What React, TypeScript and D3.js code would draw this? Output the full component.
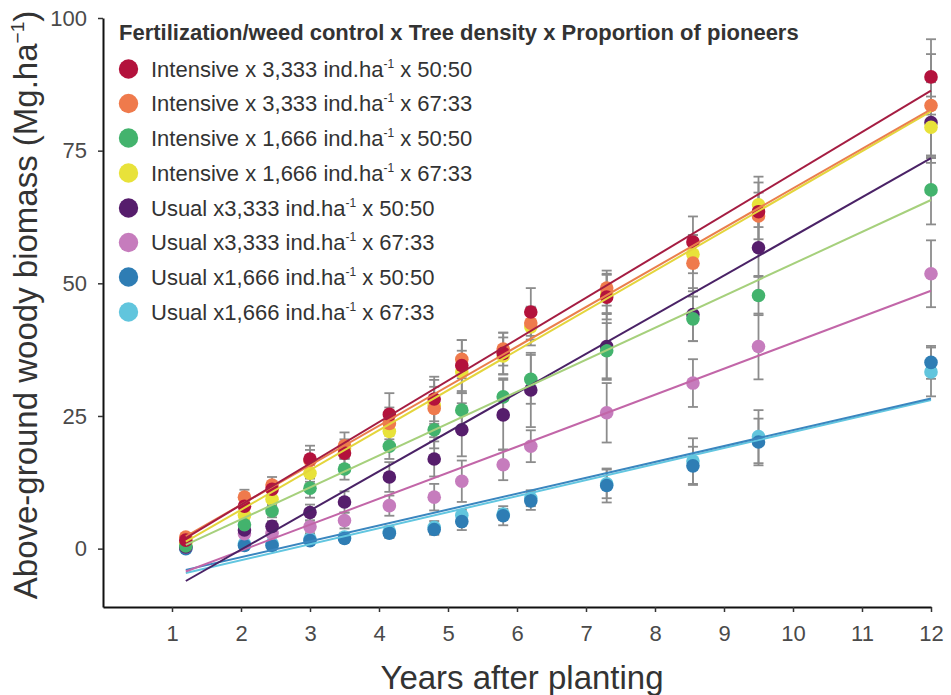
import React, { useEffect, useRef } from 'react';
import * as d3 from 'd3';

// years after planting at which biomass was measured
const years = [1.2, 2.05, 2.45, 3.0, 3.5, 4.15, 4.8, 5.2, 5.8, 6.2, 7.3, 8.55, 9.5, 12];

const labelPre = [
  'Intensive x 3,333 ind.ha',
  'Intensive x 3,333 ind.ha',
  'Intensive x 1,666 ind.ha',
  'Intensive x 1,666 ind.ha',
  'Usual x3,333 ind.ha',
  'Usual x3,333 ind.ha',
  'Usual x1,666 ind.ha',
  'Usual x1,666 ind.ha',
];
const labelPost = [' x 50:50', ' x 67:33', ' x 50:50', ' x 67:33', ' x 50:50', ' x 67:33', ' x 50:50', ' x 67:33'];

const dotColors = ['#b3123c', '#ef7a4c', '#43b36d', '#e8e23a', '#561d6c', '#c67cbd', '#2e7db4', '#61c5dd'];
const lineColors = ['#a51d42', '#ea7f4c', '#a6d07c', '#e4d53c', '#4a2266', '#c266a8', '#3a86bf', '#62c6e0'];

// mean biomass (Mg/ha), legend order
const intensive3333_5050 = [1.6, 8.0, 11.2, 16.9, 18.0, 25.3, 28.2, 34.5, 36.8, 44.6, 47.4, 57.8, 63.5, 88.9];
const intensive3333_6733 = [2.2, 9.7, 12.0, 16.6, 19.4, 23.6, 26.4, 35.7, 37.6, 42.5, 49.1, 53.8, 62.7, 83.5];
const intensive1666_5050 = [0.5, 4.5, 7.1, 11.4, 15.0, 19.3, 22.4, 26.1, 28.6, 31.9, 37.3, 43.3, 47.7, 67.6];
const intensive1666_6733 = [1.0, 6.3, 9.3, 14.2, 18.8, 22.1, 27.0, 33.3, 36.3, 41.8, 48.0, 55.5, 64.8, 79.4];
const usual3333_5050 = [0.3, 3.5, 4.2, 6.8, 8.8, 13.5, 16.9, 22.4, 25.2, 29.9, 38.1, 44.1, 56.7, 80.3];
const usual3333_6733 = [0.3, 2.8, 2.9, 4.1, 5.3, 8.1, 9.7, 12.7, 15.8, 19.3, 25.6, 31.2, 38.1, 51.8];
const usual1666_5050 = [0.0, 0.6, 0.6, 1.5, 1.9, 2.9, 3.6, 5.1, 6.2, 9.0, 11.9, 15.6, 20.1, 35.1];
const usual1666_6733 = [0.2, 0.9, 0.9, 1.8, 2.2, 3.2, 4.0, 6.3, 6.5, 9.5, 12.2, 16.5, 21.1, 33.3];

// standard errors
const se3333_5050i = [0.8, 1.2, 1.3, 2.5, 2.2, 4.0, 4.2, 4.8, 3.9, 4.5, 4.2, 4.8, 6.6, 7.1];
const se3333_6733i = [0.6, 1.4, 1.5, 2.0, 2.5, 3.0, 5.4, 3.6, 3.1, 3.1, 3.3, 5.3, 4.4, 9.7];
const se1666_5050i = [0.4, 1.0, 1.2, 1.8, 2.0, 2.4, 3.5, 3.2, 3.5, 4.6, 5.2, 4.2, 3.7, 6.5];
const se1666_6733i = [0.5, 1.0, 1.2, 1.6, 1.8, 2.5, 3.5, 4.0, 3.5, 3.5, 3.8, 3.6, 4.2, 5.8];
const se3333_5050u = [0.3, 0.8, 1.0, 1.5, 2.0, 2.8, 3.3, 5.0, 6.6, 7.0, 6.3, 5.0, 5.5, 7.6];
const se3333_6733u = [0.3, 0.6, 0.8, 1.2, 1.5, 1.9, 2.5, 3.9, 2.9, 3.0, 5.6, 4.5, 6.2, 6.3];
const se1666_5050u = [0.2, 0.4, 0.5, 0.6, 0.7, 0.9, 1.0, 1.6, 1.8, 1.7, 3.2, 3.6, 4.4, 3.1];
const se1666_6733u = [0.2, 0.4, 0.5, 0.6, 0.8, 1.0, 1.2, 1.0, 1.0, 1.5, 2.7, 4.3, 5.0, 4.6];

// fitted regression lines, value at first and last year
const fitYears = [1.2, 12];
const fitStart = [2.0, 2.3, 0.7, 1.3, -6.1, -4.3, -4.0, -4.6];
const fitEnd = [86.3, 82.8, 65.7, 82.4, 73.6, 48.6, 28.3, 28.0];

const yTicks = [0, 25, 50, 75, 100];
const xTicks = [1, 2, 3, 4, 5, 6, 7, 8, 9, 10, 11, 12];

const FONT = "'Liberation Sans', Arial, Helvetica, sans-serif";

const BiomassChart: React.FC = () => {
  const plotRef = useRef<SVGGElement>(null);

  useEffect(() => {
    if (!plotRef.current) return;
    const g = d3.select(plotRef.current);
    g.selectAll('*').remove();

    const means = [intensive3333_5050, intensive3333_6733, intensive1666_5050, intensive1666_6733,
      usual3333_5050, usual3333_6733, usual1666_5050, usual1666_6733];
    const errs = [se3333_5050i, se3333_6733i, se1666_5050i, se1666_6733i,
      se3333_5050u, se3333_6733u, se1666_5050u, se1666_6733u];

    const x = d3.scaleLinear().domain([0, 12]).range([103, 931]);
    const y = d3.scaleLinear().domain([-11, 100]).range([607, 18]);

    // axes
    const gx = g.append('g')
      .attr('transform', 'translate(0,607)')
      .call(d3.axisBottom(x).tickValues(xTicks).tickSize(5).tickSizeOuter(0).tickPadding(13));
    const gy = g.append('g')
      .attr('transform', 'translate(103,0)')
      .call(d3.axisLeft(y).tickValues(yTicks).tickSize(5).tickSizeOuter(0).tickPadding(11));
    [gx, gy].forEach(a => {
      a.select('.domain').attr('stroke', '#111').attr('stroke-width', 2);
      a.selectAll('.tick line').attr('stroke', '#333').attr('stroke-width', 1.5);
      a.selectAll('.tick text').attr('fill', '#4a4a4a').attr('font-size', 22).attr('font-family', FONT);
    });

    // draw in reverse legend order so first series ends on top
    const order = d3.range(means.length).reverse();

    const bars = g.append('g').attr('stroke', '#8c8c8c').attr('stroke-width', 1.8);
    order.forEach(s => {
      years.forEach((yr, i) => {
        const lo = y(means[s][i] - errs[s][i]);
        const hi = y(means[s][i] + errs[s][i]);
        const cx = x(yr);
        bars.append('line').attr('x1', cx).attr('x2', cx).attr('y1', lo).attr('y2', hi);
        bars.append('line').attr('x1', cx - 5).attr('x2', cx + 5).attr('y1', lo).attr('y2', lo);
        bars.append('line').attr('x1', cx - 5).attr('x2', cx + 5).attr('y1', hi).attr('y2', hi);
      });
    });

    const dots = g.append('g');
    order.forEach(s => {
      dots.selectAll(null)
        .data(years.map((yr, i) => [yr, means[s][i]]))
        .enter()
        .append('circle')
        .attr('cx', d => x(d[0]))
        .attr('cy', d => y(d[1]))
        .attr('r', 6.8)
        .attr('fill', dotColors[s]);
    });

    const line = d3.line<number[]>().x(d => x(d[0])).y(d => y(d[1]));
    const fits = g.append('g').attr('fill', 'none').attr('stroke-width', 2);
    order.forEach(s => {
      fits.append('path')
        .attr('d', line([[fitYears[0], fitStart[s]], [fitYears[1], fitEnd[s]]]))
        .attr('stroke', lineColors[s]);
    });
  }, []);

  const legendRowY = [69, 103.5, 138, 173, 208, 242.5, 277, 312];

  return (
    <svg width={951} height={695} style={{ position: 'absolute', left: 0, top: 0, background: '#fff' }}
      fontFamily={FONT}>
      <g ref={plotRef} />
      <g>
        <text x={119} y={40} fontSize={22} fontWeight="bold" fill="#333">
          Fertilization/weed control x Tree density x Proportion of pioneers
        </text>
        {labelPre.map((lab, i) => (
          <g key={i}>
            <circle cx={128.5} cy={legendRowY[i]} r={9.7} fill={dotColors[i]} />
            <text x={151} y={legendRowY[i] + 7.8} fontSize={22} fill="#333">
              {lab}
              <tspan fontSize={12} dy={-9}>-1</tspan>
              <tspan dy={9}>{labelPost[i]}</tspan>
            </text>
          </g>
        ))}
      </g>
      <text x={522} y={689} fontSize={33} fill="#333" textAnchor="middle">Years after planting</text>
      <text transform="translate(37,305) rotate(-90)" fontSize={33} fill="#333" textAnchor="middle">
        Above-ground woody biomass (Mg.ha
        <tspan fontSize={19} dy={-13}>−1</tspan>
        <tspan dy={13}>)</tspan>
      </text>
    </svg>
  );
};

export default function App() {
  return <BiomassChart />;
}
